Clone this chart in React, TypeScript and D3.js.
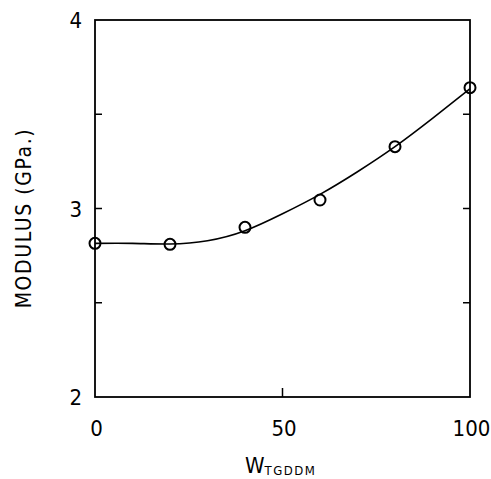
import React from "react";
import * as d3 from "d3";

// Measured modulus vs. TGDDM weight fraction
const wTGDDM = [0, 20, 40, 60, 80, 100];
const modulus = [2.815, 2.81, 2.9, 3.045, 3.328, 3.641];

// Smooth fitted trend through the measurements
const fitW = [0, 10, 20, 30, 40, 50, 60, 70, 80, 90, 100];
const fitModulus = [2.815, 2.815, 2.812, 2.829, 2.882, 2.972, 3.075, 3.195, 3.328, 3.478, 3.635];

const yTickLabels = [2, 3, 4];
const yMinorTicks = [2.5, 3, 3.5];
const xTickLabels = [0, 50, 100];
const xInnerTicks = [50];

const W = 491;
const H = 479;
const left = 95;
const right = 470;
const top = 20;
const bottom = 397;
const font = "'DejaVu Sans Condensed', 'Liberation Sans', Arial, sans-serif";

export default function App() {
  const x = d3.scaleLinear().domain([0, 100]).range([left, right]);
  const y = d3.scaleLinear().domain([2, 4]).range([bottom, top]);

  const line = d3
    .line<number>()
    .x((_, i) => x(fitW[i]))
    .y((d) => y(d))
    .curve(d3.curveNatural);

  const tickLen = 7;

  return (
    <div style={{ position: "absolute", left: 0, top: 0 }}>
      <svg width={W} height={H} style={{ display: "block", background: "#fff" }}>
        {/* frame */}
        <rect
          x={left}
          y={top}
          width={right - left}
          height={bottom - top}
          fill="none"
          stroke="#000"
          strokeWidth={1.8}
        />
        {/* inward ticks on both vertical sides */}
        {yMinorTicks.map((t) => (
          <g key={"yt" + t}>
            <line x1={left} x2={left + tickLen} y1={y(t)} y2={y(t)} stroke="#000" strokeWidth={1.5} />
            <line x1={right} x2={right - tickLen} y1={y(t)} y2={y(t)} stroke="#000" strokeWidth={1.5} />
          </g>
        ))}
        {xInnerTicks.map((t) => (
          <line key={"xt" + t} x1={x(t)} x2={x(t)} y1={bottom} y2={bottom - 9} stroke="#000" strokeWidth={1.5} />
        ))}
        {/* y tick labels */}
        {yTickLabels.map((t) => (
          <text
            key={"yl" + t}
            x={left - 13}
            y={y(t) + 8}
            textAnchor="end"
            fontFamily={font}
            fontSize={22}
            fill="#000"
          >
            {t}
          </text>
        ))}
        {/* x tick labels */}
        {xTickLabels.map((t) => (
          <text
            key={"xl" + t}
            x={x(t) + 1.5}
            y={436}
            textAnchor="middle"
            fontFamily={font}
            fontSize={22}
            fill="#000"
          >
            {t}
          </text>
        ))}
        {/* fitted curve */}
        <path d={line(fitModulus) || ""} fill="none" stroke="#000" strokeWidth={1.6} />
        {/* data points */}
        {wTGDDM.map((w, i) => (
          <circle
            key={"p" + w}
            cx={x(w)}
            cy={y(modulus[i])}
            r={5.5}
            fill="none"
            stroke="#000"
            strokeWidth={2}
          />
        ))}
        {/* axis titles */}
        <text
          transform={`translate(31, ${218}) rotate(-90)`}
          textAnchor="middle"
          fontFamily={font}
          fontSize={21}
          letterSpacing={1.6}
          fill="#000"
        >
          MODULUS (GPa.)
        </text>
        <text x={245} y={473} fontFamily={font} fontSize={22} fill="#000">
          W
          <tspan fontSize={13} letterSpacing={1.5} dy={2}>
            TGDDM
          </tspan>
        </text>
      </svg>
    </div>
  );
}
